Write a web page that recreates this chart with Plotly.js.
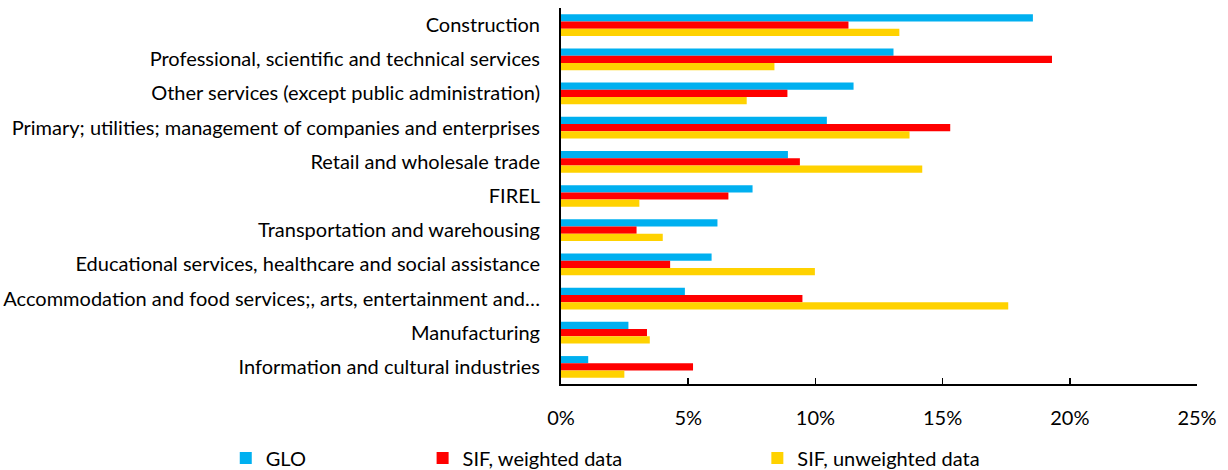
<!DOCTYPE html>
<html>
<head>
<meta charset="utf-8">
<script src="https://cdn.plot.ly/plotly-3.0.1.min.js"></script>
<style>html,body{margin:0;padding:0;background:#fff;}#chart{width:1228px;height:470px;}</style>
</head>
<body>
<div id="chart"></div>
<script>
const categories = [
  "Construction",
  "Professional, scientific and technical services",
  "Other services (except public administration)",
  "Primary; utilities; management of companies and enterprises",
  "Retail and wholesale trade",
  "FIREL",
  "Transportation and warehousing",
  "Educational services, healthcare and social assistance",
  "Accommodation and food services;, arts, entertainment and…",
  "Manufacturing",
  "Information and cultural industries"
];
const glo = [0.1855, 0.1307, 0.1150, 0.1045, 0.0892, 0.0753, 0.0615, 0.0592, 0.0487, 0.0265, 0.0107];
const sifWeighted = [0.1130, 0.1930, 0.0890, 0.1530, 0.0939, 0.0658, 0.0297, 0.0429, 0.0949, 0.0338, 0.0519];
const sifUnweighted = [0.1330, 0.0839, 0.0730, 0.1370, 0.1420, 0.0308, 0.0400, 0.0998, 0.1758, 0.0349, 0.0249];
const seriesNames = ["GLO", "SIF, weighted data", "SIF, unweighted data"];
const tickVals = [0, 0.05, 0.10, 0.15, 0.20, 0.25];
const tickText = ["0%", "5%", "10%", "15%", "20%", "25%"];

const FONT = "Lato, 'Open Sans', sans-serif";
const colors = ["#00B0F0", "#FF0000", "#FFD200"];
const seriesData = [glo, sifWeighted, sifUnweighted];
const legendIds = ["legend", "legend2", "legend3"];

const traces = seriesData.map((vals, i) => ({
  type: "bar",
  orientation: "h",
  name: seriesNames[i],
  x: vals,
  y: categories,
  marker: {color: colors[i], line: {width: 0}},
  legend: legendIds[i],
  hoverinfo: "skip"
}));

const W = 1228, H = 470;
const plotL = 560.5, plotR = 1197, plotT = 8, plotB = 384;
const px2x = p => (p - plotL) / (plotR - plotL);
const py2y = p => (plotB - p) / (plotB - plotT);

function legendAt(xpx) {
  return {
    x: px2x(xpx), xanchor: "left",
    y: py2y(458), yanchor: "middle",
    orientation: "h",
    bgcolor: "rgba(0,0,0,0)",
    borderwidth: 0,
    font: {family: FONT, size: 20, color: "#000"},
    itemwidth: 30,
    traceorder: "normal"
  };
}

const layout = {
  width: W, height: H,
  margin: {l: plotL, r: W - plotR, t: plotT, b: H - plotB, pad: 0, autoexpand: false},
  paper_bgcolor: "#fff",
  plot_bgcolor: "#fff",
  barmode: "group",
  bargap: 0.365,
  bargroupgap: 0,
  font: {family: FONT, size: 20, color: "#000"},
  showlegend: true,
  legend: legendAt(225),
  legend2: legendAt(422),
  legend3: legendAt(757),
  xaxis: {
    range: [0, 0.25],
    tickvals: tickVals,
    ticktext: tickText,
    showgrid: false,
    zeroline: false,
    showline: true,
    linecolor: "#000",
    linewidth: 2,
    ticks: "inside",
    ticklen: 6,
    tickwidth: 1.5,
    tickcolor: "#000",
    ticklabelstandoff: 15,
    tickfont: {family: FONT, size: 20, color: "#000"},
    fixedrange: true
  },
  yaxis: {
    type: "category",
    categoryorder: "array",
    categoryarray: categories,
    autorange: "reversed",
    showgrid: false,
    zeroline: false,
    showline: true,
    linecolor: "#000",
    linewidth: 2,
    ticks: "",
    ticklabelstandoff: 15,
    tickfont: {family: FONT, size: 20, color: "#000"},
    fixedrange: true
  }
};

Plotly.newPlot("chart", traces, layout, {displayModeBar: false, staticPlot: true});
</script>
</body>
</html>
